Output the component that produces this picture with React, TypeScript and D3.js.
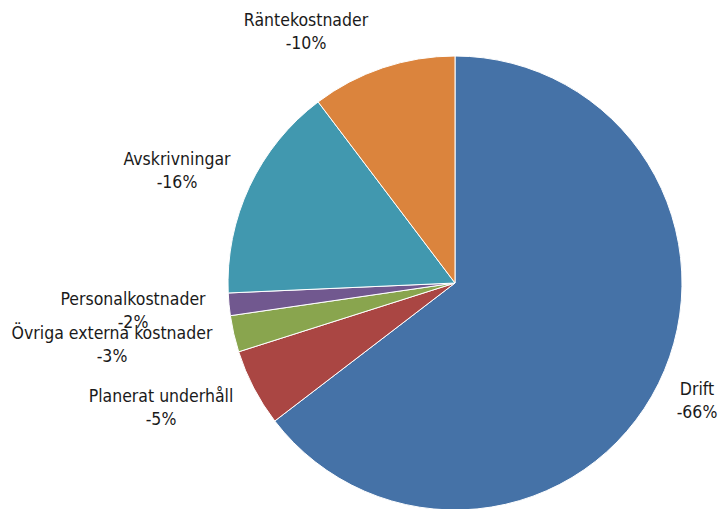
import React from "react";
import * as d3 from "d3";

const categories = [
  "Drift",
  "Planerat underhåll",
  "Övriga externa kostnader",
  "Personalkostnader",
  "Avskrivningar",
  "Räntekostnader",
];
const values = [64.6, 5.5, 2.6, 1.6, 15.4, 10.3];
const shownPct = [-66, -5, -3, -2, -16, -10];
const colors = ["#4572A7", "#AA4643", "#89A54E", "#71588F", "#4198AF", "#DB843D"];

// label layout: offset from pie centre (x of text centre, y of first baseline)
const labelOffsets: [number, number][] = [
  [242, 112],
  [-294, 119],
  [-343, 56],
  [-322, 22],
  [-278, -118],
  [-149, -257],
];

export default function App() {
  const W = 718, H = 509;
  const cx = 455, cy = 283, r = 227;
  const pie = d3.pie<number>().sort(null).value((d) => d);
  const arcs = pie(values);
  const arc = d3.arc<d3.PieArcDatum<number>>().innerRadius(0).outerRadius(r);
  return (
    <svg width={W} height={H} style={{ position: "absolute", left: 0, top: 0 }}>
      <rect width={W} height={H} fill="#fff" />
      <g transform={`translate(${cx},${cy})`}>
        {arcs.map((a, i) => (
          <path key={i} d={arc(a) || ""} fill={colors[i]} stroke="#fff" strokeWidth={1} strokeLinejoin="round" />
        ))}
        {arcs.map((a, i) => (
          <text
            key={"t" + i}
            x={labelOffsets[i][0]}
            y={labelOffsets[i][1]}
            textAnchor="middle"
            fontFamily="DejaVu Sans Condensed, DejaVu Sans, sans-serif"
            fontStretch="condensed"
            fontSize={17.5}
            fill="#1a1a1a"
          >
            <tspan x={labelOffsets[i][0]}>{categories[i]}</tspan>
            <tspan x={labelOffsets[i][0]} dy={23}>{shownPct[i]}%</tspan>
          </text>
        ))}
      </g>
    </svg>
  );
}
